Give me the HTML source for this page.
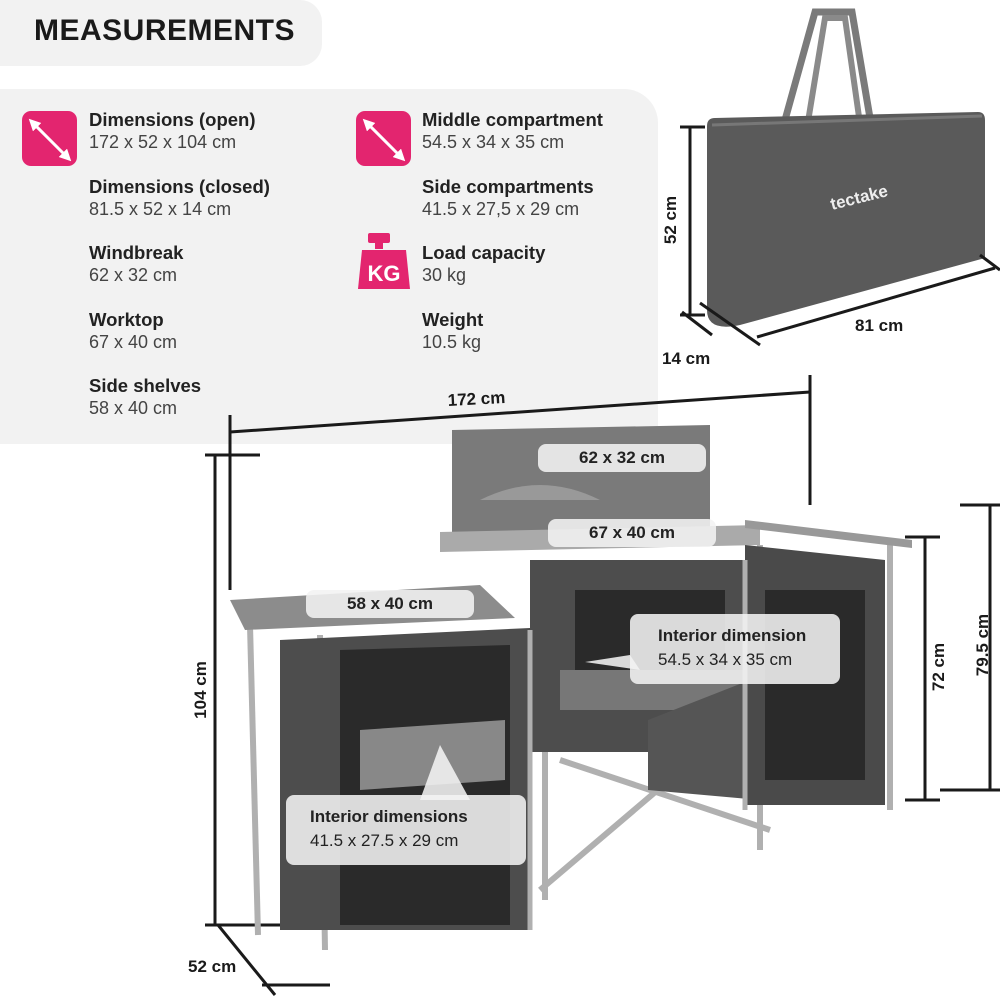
<!DOCTYPE html>
<html><head><meta charset="utf-8"><style>
body{margin:0;width:1000px;height:1000px;background:#fff;position:relative;overflow:hidden;font-family:"Liberation Sans",sans-serif;color:#222}
.hdr{position:absolute;left:0;top:0;width:322px;height:66px;background:#f2f2f2;border-radius:0 22px 22px 0}
.hdr span{position:absolute;left:34px;top:14px;font-size:30px;font-weight:900;letter-spacing:0.5px;color:#1a1a1a}
.panel{position:absolute;left:0;top:89px;width:658px;height:355px;background:#f2f2f2;border-radius:0 34px 0 0}
.it{position:absolute;font-size:18px;line-height:22px}
.it b{display:block;font-size:18.5px}
.it span{color:#444;font-weight:300}
.ic{position:absolute;width:55px;height:55px;background:#e3256f;border-radius:9px}
svg{position:absolute;left:0;top:0}
.lb{position:absolute;background:rgba(242,242,242,0.88);border-radius:8px;font-size:17px;font-weight:bold;text-align:center;color:#222}
</style></head><body>
<div class="hdr"><span>MEASUREMENTS</span></div>
<div class="panel"></div>
<div class="ic" style="left:22px;top:111px"></div>
<div class="ic" style="left:356px;top:111px"></div>
<div class="it" style="left:89px;top:109px"><b>Dimensions (open)</b><span>172 x 52 x 104 cm</span></div>
<div class="it" style="left:89px;top:176px"><b>Dimensions (closed)</b><span>81.5 x 52 x 14 cm</span></div>
<div class="it" style="left:89px;top:242px"><b>Windbreak</b><span>62 x 32 cm</span></div>
<div class="it" style="left:89px;top:309px"><b>Worktop</b><span>67 x 40 cm</span></div>
<div class="it" style="left:89px;top:375px"><b>Side shelves</b><span>58 x 40 cm</span></div>
<div class="it" style="left:422px;top:109px"><b>Middle compartment</b><span>54.5 x 34 x 35 cm</span></div>
<div class="it" style="left:422px;top:176px"><b>Side compartments</b><span>41.5 x 27,5 x 29 cm</span></div>
<div class="it" style="left:422px;top:242px"><b>Load capacity</b><span>30 kg</span></div>
<div class="it" style="left:422px;top:309px"><b>Weight</b><span>10.5 kg</span></div>
<svg width="1000" height="1000" viewBox="0 0 1000 1000">
<defs><marker id="a" viewBox="0 0 10 10" refX="5" refY="5" markerWidth="4" markerHeight="4" orient="auto-start-reverse"><path d="M0,0L10,5L0,10z" fill="#fff"/></marker></defs>
<line x1="33" y1="123" x2="67" y2="157" stroke="#fff" stroke-width="3" marker-start="url(#a)" marker-end="url(#a)"/>
<line x1="367" y1="123" x2="401" y2="157" stroke="#fff" stroke-width="3" marker-start="url(#a)" marker-end="url(#a)"/>
<rect x="368" y="233" width="22" height="10" rx="2" fill="#e3256f"/><rect x="375" y="241" width="8" height="8" fill="#e3256f"/>
<path d="M362 250h44l4 39h-52z" fill="#e3256f"/>
<text x="384" y="281" font-size="22" font-weight="900" fill="#fff" text-anchor="middle" font-family="Liberation Sans">KG</text>
<!-- bag -->
<path d="M785 120 L815 12 L852 12 L870 118" fill="none" stroke="#7a7a7a" stroke-width="7"/>
<path d="M805 140 L825 18 L845 18 L862 138" fill="none" stroke="#8a8a8a" stroke-width="6"/>
<path d="M707 126 Q707 118 715 118 L978 112 Q985 112 985 120 L985 258 L740 325 Q707 332 707 310Z" fill="#5a5a5a"/>
<path d="M712 125 L982 116" stroke="#777" stroke-width="3"/>
<text x="832" y="210" fill="#eee" font-size="17" font-weight="bold" transform="rotate(-14 832 210)">tectake</text>
<g stroke="#1a1a1a" stroke-width="3" fill="none">
<line x1="690" y1="127" x2="690" y2="315"/><line x1="680" y1="127" x2="705" y2="127"/><line x1="680" y1="315" x2="705" y2="315"/>
<line x1="757" y1="337" x2="995" y2="268"/><line x1="980" y1="255" x2="1000" y2="270"/>
<line x1="682" y1="312" x2="712" y2="335"/><line x1="700" y1="303" x2="760" y2="345"/>
<line x1="230" y1="432" x2="810" y2="392"/><line x1="230" y1="415" x2="230" y2="590"/><line x1="810" y1="375" x2="810" y2="505"/>
<line x1="215" y1="455" x2="215" y2="925"/><line x1="205" y1="455" x2="260" y2="455"/><line x1="205" y1="925" x2="290" y2="925"/>
<line x1="218" y1="925" x2="275" y2="995"/><line x1="262" y1="985" x2="330" y2="985"/>
<line x1="925" y1="537" x2="925" y2="800"/><line x1="905" y1="537" x2="940" y2="537"/><line x1="905" y1="800" x2="940" y2="800"/>
<line x1="990" y1="505" x2="990" y2="790"/><line x1="960" y1="505" x2="1000" y2="505"/><line x1="940" y1="790" x2="1000" y2="790"/>
</g>
<g font-family="Liberation Sans" font-weight="bold" font-size="17" fill="#1a1a1a">
<text x="676" y="220" transform="rotate(-90 676 220)" text-anchor="middle">52 cm</text>
<text x="855" y="331">81 cm</text><text x="662" y="364">14 cm</text>
<text x="448" y="406" transform="rotate(-3 448 406)">172 cm</text>
<text x="206" y="690" transform="rotate(-90 206 690)" text-anchor="middle">104 cm</text>
<text x="188" y="972">52 cm</text>
<text x="944" y="667" transform="rotate(-90 944 667)" text-anchor="middle">72 cm</text>
<text x="988" y="645" transform="rotate(-90 988 645)" text-anchor="middle">79.5 cm</text>
</g>
<g stroke="#b0b0b0" stroke-width="6" fill="none">
<line x1="250" y1="625" x2="258" y2="935"/><line x1="320" y1="635" x2="325" y2="950"/>
<line x1="545" y1="560" x2="545" y2="900"/><line x1="560" y1="760" x2="770" y2="830"/><line x1="540" y1="890" x2="740" y2="720"/>
<line x1="760" y1="545" x2="760" y2="850"/><line x1="890" y1="545" x2="890" y2="810"/>
</g>
<path d="M452 430 L710 425 L710 540 L452 545Z" fill="#7a7a7a"/>
<path d="M480 500 Q540 470 600 500 Z" fill="#999"/>
<path d="M440 532 L760 525 L760 545 L440 552Z" fill="#aaa"/>
<path d="M745 520 L912 540 L912 548 L745 528Z" fill="#999"/>
<path d="M530 560 L745 560 L745 752 L530 752Z" fill="#4d4d4d"/>
<path d="M560 670 L745 670 L745 710 L560 710Z" fill="#777"/>
<path d="M648 720 L750 680 L760 800 L648 790Z" fill="#555"/>
<path d="M745 545 L885 560 L885 805 L745 805Z" fill="#4a4a4a"/>
<path d="M765 590 L865 590 L865 780 L765 780Z" fill="#2a2a2a"/>
<path d="M230 600 L480 585 L515 618 L245 630Z" fill="#8c8c8c"/>
<path d="M280 640 L530 628 L530 930 L280 930Z" fill="#4d4d4d"/>
<path d="M340 650 L510 645 L510 925 L340 925Z" fill="#2a2a2a"/>
<path d="M360 730 L505 720 L505 780 L360 790Z" fill="#888"/>
<path d="M575 590 L725 590 L725 670 L575 670Z" fill="#2a2a2a"/>
<g stroke="#b0b0b0" stroke-width="5"><line x1="530" y1="630" x2="530" y2="930"/><line x1="745" y1="560" x2="745" y2="810"/></g>
</svg>
<div class="lb" style="left:538px;top:444px;width:168px;height:28px;line-height:28px">62 x 32 cm</div>
<div class="lb" style="left:548px;top:519px;width:168px;height:28px;line-height:28px">67 x 40 cm</div>
<div class="lb" style="left:306px;top:590px;width:168px;height:28px;line-height:28px">58 x 40 cm</div>
<svg width="1000" height="1000"><path d="M630 655 L585 662 L640 670Z M440 745 L470 800 L420 800Z" fill="rgba(242,242,242,0.88)"/></svg>
<div class="lb" style="left:630px;top:614px;width:210px;height:70px;text-align:left;padding-left:28px;box-sizing:border-box;padding-top:10px;line-height:24px">Interior dimension<br><span style="font-weight:300">54.5 x 34 x 35 cm</span></div>
<div class="lb" style="left:286px;top:795px;width:240px;height:70px;text-align:left;padding-left:24px;box-sizing:border-box;padding-top:10px;line-height:24px">Interior dimensions<br><span style="font-weight:300">41.5 x 27.5 x 29 cm</span></div>
</body></html>
